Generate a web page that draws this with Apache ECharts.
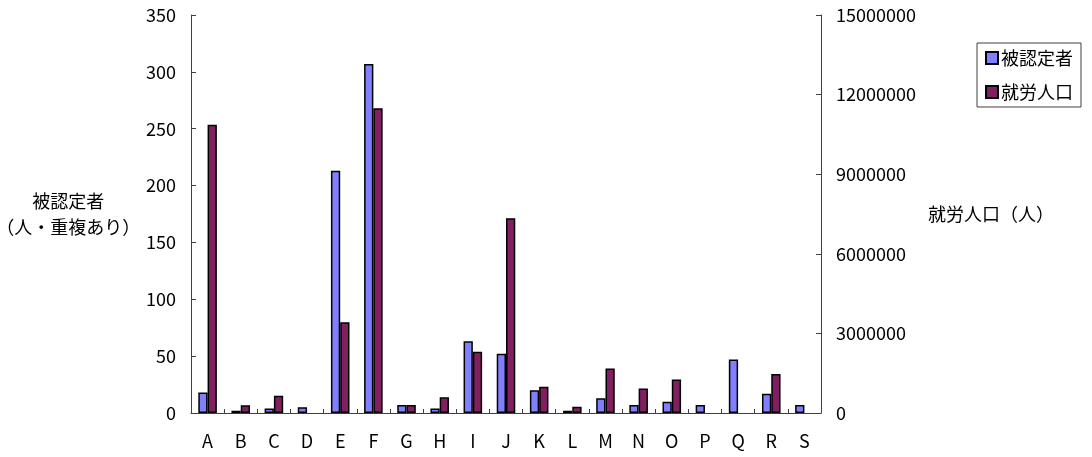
<!DOCTYPE html>
<html>
<head>
<meta charset="utf-8">
<script src="https://cdn.jsdelivr.net/npm/echarts@6/dist/echarts.min.js"></script>
<style>
html,body{margin:0;padding:0;background:#fff;}
#chart{width:1092px;height:457px;}
</style>
</head>
<body>
<div id="chart"></div>
<script>
const categories = ['A','B','C','D','E','F','G','H','I','J','K','L','M','N','O','P','Q','R','S'];
const certified = [18, 2, 4, 5, 213, 307, 7, 4, 63, 52, 20, 2, 13, 7, 10, 7, 47, 17, 7];
const workforce = [10860000, 288000, 652000, 0, 3424000, 11490000, 301000, 589000, 2308000, 7337000, 991000, 238000, 1680000, 928000, 1267000, 0, 0, 1467000, 0];
const seriesNames = ['被認定者', '就労人口'];
const leftAxisName = '被認定者\n（人・重複あり）';
const rightAxisName = '就労人口（人）';

const FONT = '"Noto Sans CJK JP", sans-serif';
const chart = echarts.init(document.getElementById('chart'));
const axisLine = {show: true, lineStyle: {color: '#404040', width: 1}};
const hideZero = arr => arr.map(v => (v === 0 ? null : v));
chart.setOption({
  animation: false,
  textStyle: {fontFamily: FONT},
  grid: {left: 191, right: 271, top: 15, bottom: 44, containLabel: false, outerBoundsMode: 'none'},
  legend: {
    orient: 'vertical',
    left: 977, top: 43,
    padding: [6, 8, 6, 8],
    borderColor: '#404040', borderWidth: 1,
    backgroundColor: '#fff',
    itemWidth: 12, itemHeight: 12, itemGap: 16,
    textStyle: {fontFamily: FONT, fontSize: 18, color: '#000', padding: [0, 0, 0, -2]},
    data: seriesNames.map(n => ({name: n, icon: 'rect'}))
  },
  xAxis: {
    type: 'category',
    data: categories,
    axisLine: axisLine,
    axisTick: {show: true, inside: true, length: 4, lineStyle: {color: '#404040'}},
    axisLabel: {fontFamily: FONT, fontSize: 18, color: '#000', margin: 19}
  },
  yAxis: [
    {
      type: 'value', min: 0, max: 350, interval: 50,
      position: 'left',
      name: leftAxisName,
      nameLocation: 'middle', nameRotate: 0, nameGap: 121,
      nameTextStyle: {fontFamily: FONT, fontSize: 18, color: '#000', align: 'center', verticalAlign: 'middle', lineHeight: 26},
      axisLine: axisLine,
      axisTick: {show: true, inside: true, length: 5, lineStyle: {color: '#404040'}},
      splitLine: {show: false},
      axisLabel: {fontFamily: FONT, fontSize: 18, color: '#000', margin: 15}
    },
    {
      type: 'value', min: 0, max: 15000000, interval: 3000000,
      position: 'right',
      name: rightAxisName,
      nameLocation: 'middle', nameRotate: 0, nameGap: 170,
      nameTextStyle: {fontFamily: FONT, fontSize: 18, color: '#000', align: 'center', verticalAlign: 'middle'},
      axisLine: axisLine,
      axisTick: {show: true, inside: true, length: 5, lineStyle: {color: '#404040'}},
      splitLine: {show: false},
      axisLabel: {fontFamily: FONT, fontSize: 18, color: '#000', margin: 15, formatter: v => String(v)}
    }
  ],
  series: [
    {
      name: seriesNames[0], type: 'bar', yAxisIndex: 0, data: hideZero(certified),
      barGap: '0%', barCategoryGap: '44%',
      itemStyle: {color: '#8080FF', borderColor: '#000', borderWidth: 1.5}
    },
    {
      name: seriesNames[1], type: 'bar', yAxisIndex: 1, data: hideZero(workforce),
      barGap: '0%', barCategoryGap: '44%',
      itemStyle: {color: '#802060', borderColor: '#000', borderWidth: 1.5}
    }
  ]
});
</script>
</body>
</html>
